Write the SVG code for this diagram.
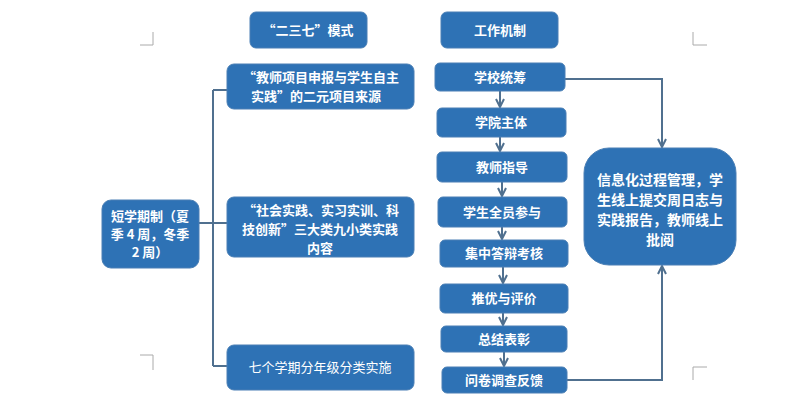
<svg xmlns="http://www.w3.org/2000/svg" width="798" height="402" viewBox="0 0 798 402">
<style>
.n{fill:#2e72b5;stroke:#4a7fb5;stroke-width:1}
.t{fill:#fff;font-family:"Noto Sans CJK SC","Liberation Sans",sans-serif;font-size:13px;font-weight:bold;text-anchor:middle}
.b{font-size:14px}
.c{fill:none;stroke:#50708f;stroke-width:2}
.m{fill:none;stroke:#aaa;stroke-width:1}
</style>
<defs><marker id="a" viewBox="0 0 10 10" refX="9" refY="5" markerWidth="5" markerHeight="5" orient="auto"><path d="M1,1 L9,5 L1,9" fill="none" stroke="#50708f" stroke-width="2"/></marker></defs>
<rect width="798" height="402" fill="#fff"/>
<g class="m"><path d="M140,45H153V32M140,355H153V370M707,45H693V32M707,367H693V380"/></g>
<g id="connectors" class="c">
<path d="M199,223H213M213,90V366M213,90H227M213,223H227M213,366H227"/>
<path d="M500,91V107" marker-end="url(#a)"/>
<path d="M500,137V151" marker-end="url(#a)"/>
<path d="M502,182V196" marker-end="url(#a)"/>
<path d="M502,227V239" marker-end="url(#a)"/>
<path d="M503,267V283" marker-end="url(#a)"/>
<path d="M503,313V325" marker-end="url(#a)"/>
<path d="M504,352V366" marker-end="url(#a)"/>
<path d="M565,79H662V147" marker-end="url(#a)"/>
<path d="M567,380H662V266" marker-end="url(#a)"/>
</g>
<g id="n0"><rect class="n" x="250" y="12" width="117" height="36" rx="6"/><text class="t" x="308" y="35">“二三七”模式</text></g>
<g id="n1"><rect class="n" x="227" y="64" width="187" height="45" rx="7"/><text class="t" x="321" y="82">“教师项目申报与学生自主</text><text class="t" x="316" y="101">实践”的二元项目来源</text></g>
<g id="n2"><rect class="n" x="227" y="197" width="187" height="60" rx="7"/><text class="t" x="321" y="215">“社会实践、实习实训、科</text><text class="t" x="320" y="234">技创新”三大类九小类实践</text><text class="t" x="320" y="253">内容</text></g>
<g id="n3"><rect class="n" x="227" y="345" width="187" height="45" rx="7"/><text class="t" x="320" y="372" style="font-weight:normal">七个学期分年级分类实施</text></g>
<g id="n4"><rect class="n" x="102" y="200" width="97" height="68" rx="9"/><text class="t" x="150" y="221">短学期制（夏</text><text class="t" x="150" y="239">季 4 周，冬季</text><text class="t" x="150" y="257">2 周）</text></g>
<g id="n5"><rect class="n" x="441" y="12" width="117" height="36" rx="6"/><text class="t" x="500" y="35">工作机制</text></g>
<g id="s1"><rect class="n" x="435" y="63" width="130" height="28" rx="5"/><text class="t" x="500" y="82">学校统筹</text></g>
<g id="s2"><rect class="n" x="437" y="108" width="129" height="29" rx="5"/><text class="t" x="501" y="127">学院主体</text></g>
<g id="s3"><rect class="n" x="437" y="152" width="130" height="30" rx="5"/><text class="t" x="502" y="172">教师指导</text></g>
<g id="s4"><rect class="n" x="438" y="197" width="129" height="30" rx="5"/><text class="t" x="502" y="217">学生全员参与</text></g>
<g id="s5"><rect class="n" x="440" y="240" width="128" height="27" rx="5"/><text class="t" x="504" y="258">集中答辩考核</text></g>
<g id="s6"><rect class="n" x="440" y="284" width="128" height="29" rx="5"/><text class="t" x="504" y="303">推优与评价</text></g>
<g id="s7"><rect class="n" x="441" y="326" width="126" height="26" rx="5"/><text class="t" x="504" y="344">总结表彰</text></g>
<g id="s8"><rect class="n" x="442" y="367" width="125" height="26" rx="5"/><text class="t" x="504" y="385">问卷调查反馈</text></g>
<g id="n6"><rect class="n" x="584" y="148" width="152" height="117" rx="25"/><text class="t b" x="660" y="185">信息化过程管理，学</text><text class="t b" x="660" y="205">生线上提交周日志与</text><text class="t b" x="660" y="225">实践报告，教师线上</text><text class="t b" x="660" y="245">批阅</text></g>
</svg>
